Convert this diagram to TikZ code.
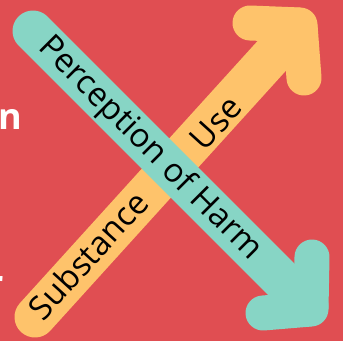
\documentclass[tikz,border=0pt]{standalone}
\usepackage{fontspec}
\setmainfont{Open Sans}
\definecolor{bgred}{HTML}{E04E52}
\definecolor{ylw}{HTML}{FEC36B}
\definecolor{tealc}{HTML}{87D5C5}
\begin{document}
\begin{tikzpicture}[x=1pt,y=-1pt,
  shaft/.style={line width=41pt,line cap=round},
  headline/.style={line width=35pt,line cap=round,line join=round},
  lbl/.style={inner sep=0pt,text=black,font=\fontsize{33}{38}\selectfont},
  side/.style={inner sep=0pt,text=white,font=\bfseries\fontsize{36}{40}\selectfont}]
\useasboundingbox (0,0) rectangle (343,341);
\clip (0,0) rectangle (343,341);
\fill[bgred] (0,0) rectangle (343,341);
% partial side texts
\node[side,anchor=base east] (sidea) at (22,129) {n};
\node[side,anchor=base east] (sideb) at (4,296) {r};
% yellow arrow (Substance Use)
\coordinate (ys) at (35,317);
\coordinate (yc) at (300,25);
\coordinate (ye) at (297,28);
\coordinate (yl) at (250,23);
\coordinate (yb) at (304,78);
\draw[ylw,shaft] (ys) -- (ye);
\draw[ylw,headline] (yl) -- (yc) -- (yb);
\node[lbl,rotate=47.7] (subst) at (88,255) {Substance};
\node[lbl,rotate=47.7] (use) at (216,123) {Use};
% teal arrow (Perception of Harm)
\coordinate (ts) at (33,31);
\coordinate (tc) at (311,309);
\coordinate (te) at (308,306);
\coordinate (tu) at (312,257);
\coordinate (tl) at (263,313);
\draw[tealc,shaft] (ts) -- (te);
\draw[tealc,headline] (tu) -- (tc) -- (tl);
\node[lbl,rotate=-45] (perc) at (150,149) {Perception of Harm};
\end{tikzpicture}
\end{document}
